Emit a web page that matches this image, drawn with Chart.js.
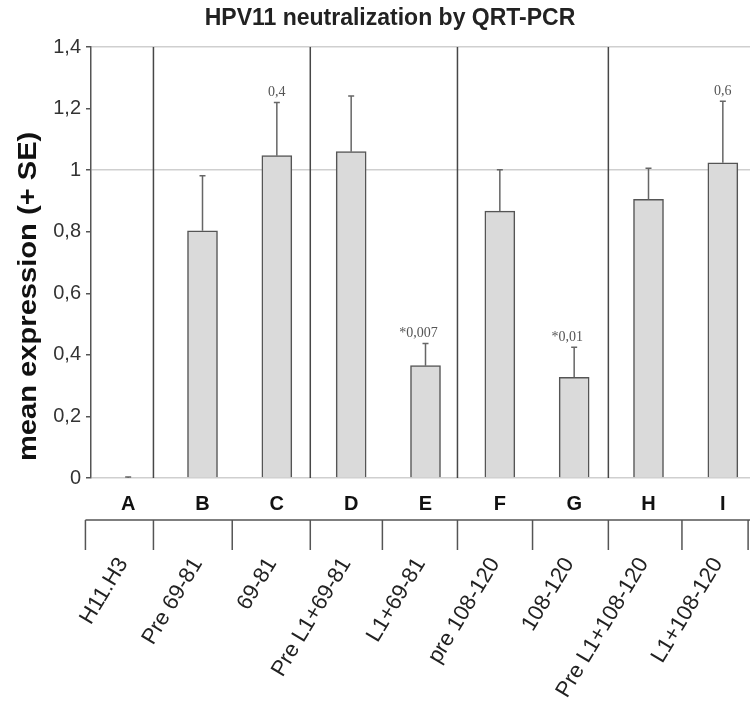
<!DOCTYPE html>
<html>
<head>
<meta charset="utf-8">
<script src="https://cdn.jsdelivr.net/npm/chart.js@4"></script>
<style>
html, body { margin: 0; padding: 0; overflow: hidden; background: #fff; }
#wrap { width: 780px; height: 704px; }
</style>
</head>
<body>
<div id="wrap"><canvas id="c" width="780" height="704"></canvas></div>
<script>
// ---- data ----
const categories = ['A', 'B', 'C', 'D', 'E', 'F', 'G', 'H', 'I'];
const sampleNames = ['H11.H3', 'Pre 69-81', '69-81', 'Pre L1+69-81', 'L1+69-81',
                     'pre 108-120', '108-120', 'Pre L1+108-120', 'L1+108-120'];
const meanExpression = [0, 0.803, 1.047, 1.060, 0.365, 0.867, 0.327, 0.905, 1.024];
const standardError  = [0.003, 0.179, 0.173, 0.181, 0.072, 0.134, 0.098, 0.101, 0.200];
const pValueLabels   = ['', '', '0,4', '', '*0,007', '', '*0,01', '', '0,6'];
const yTickLabels    = ['0', '0,2', '0,4', '0,6', '0,8', '1', '1,2', '1,4'];
const tableEdges     = [-0.575, 0.34, 1.40, 2.45, 3.42, 4.43, 5.44, 6.46, 7.45, 8.34];
const groupDividers  = [0.34, 2.45, 4.43, 6.46];
const yAxisTitle     = 'mean expression (+ SE)';

const SANS = "'Liberation Sans', Arial, sans-serif";
const SERIF = "'Liberation Serif', 'Times New Roman', serif";

const decor = {
  id: 'decor',
  beforeDatasetsDraw(chart) {
    const ctx = chart.ctx;
    const x = chart.scales.x;
    const y = chart.scales.y;
    const x2 = chart.scales.x2;
    ctx.save();
    ctx.strokeStyle = '#474747';
    ctx.lineWidth = 1.5;
    groupDividers.forEach(v => {
      const px = x.getPixelForValue(v);
      ctx.beginPath();
      ctx.moveTo(px, y.getPixelForValue(1.4));
      ctx.lineTo(px, y.getPixelForValue(0));
      ctx.stroke();
    });
    // table under the axis
    const top = x2.top;
    ctx.strokeStyle = '#555';
    ctx.beginPath();
    ctx.moveTo(x2.getPixelForValue(tableEdges[0]), top);
    ctx.lineTo(chart.width, top);
    ctx.stroke();
    tableEdges.forEach(v => {
      const px = x2.getPixelForValue(v);
      ctx.beginPath();
      ctx.moveTo(px, top);
      ctx.lineTo(px, top + 30);
      ctx.stroke();
    });
    ctx.restore();
  },
  afterDatasetsDraw(chart) {
    const ctx = chart.ctx;
    const y = chart.scales.y;
    const meta = chart.getDatasetMeta(0);
    ctx.save();
    ctx.strokeStyle = '#666';
    ctx.lineWidth = 1.5;
    meta.data.forEach((bar, i) => {
      if (!standardError[i]) return;
      const yTop = y.getPixelForValue(meanExpression[i] + standardError[i]);
      const yBase = y.getPixelForValue(meanExpression[i]);
      ctx.beginPath();
      ctx.moveTo(bar.x, yBase);
      ctx.lineTo(bar.x, yTop);
      ctx.moveTo(bar.x - 3, yTop);
      ctx.lineTo(bar.x + 3, yTop);
      ctx.stroke();
    });
    ctx.fillStyle = '#555';
    ctx.font = '14px ' + SERIF;
    ctx.textAlign = 'center';
    ctx.textBaseline = 'middle';
    meta.data.forEach((bar, i) => {
      const t = pValueLabels[i];
      if (!t) return;
      const yTop = y.getPixelForValue(meanExpression[i] + standardError[i]);
      let shift = 0;
      if (t.startsWith('*')) shift = -ctx.measureText('*').width;
      ctx.fillText(t, bar.x + shift, yTop - 10);
    });
    ctx.restore();
  },
  afterDraw(chart) {
    const ctx = chart.ctx;
    const y = chart.scales.y;
    ctx.save();
    ctx.translate(29, y.getPixelForValue(0.59));
    ctx.rotate(-Math.PI / 2);
    ctx.scale(1.12, 1);
    ctx.fillStyle = '#111';
    ctx.font = 'bold 26px ' + SANS;
    ctx.textAlign = 'center';
    ctx.textBaseline = 'middle';
    ctx.fillText(yAxisTitle, 0, 0);
    ctx.restore();
  }
};

new Chart(document.getElementById('c'), {
  type: 'bar',
  data: {
    labels: categories,
    datasets: [{
      data: meanExpression,
      backgroundColor: '#dadada',
      borderColor: '#555',
      borderWidth: 1.5,
      barThickness: 30,
      xAxisID: 'x',
      yAxisID: 'y'
    }]
  },
  options: {
    responsive: false,
    animation: false,
    layout: { padding: { left: 20, right: 20, top: 0, bottom: 0 } },
    plugins: {
      legend: { display: false },
      tooltip: { enabled: false },
      title: {
        display: true,
        text: 'HPV11 neutralization by QRT-PCR',
        color: '#222',
        font: { family: SANS, size: 23, weight: 'bold' },
        padding: { top: 5, bottom: 14.4 }
      }
    },
    scales: {
      y: {
        min: 0,
        max: 1.4,
        afterFit(s) { s.width = 71; },
        ticks: {
          stepSize: 0.2,
          color: '#333',
          font: { family: SANS, size: 20 },
          padding: 5,
          callback: (v, i) => yTickLabels[i]
        },
        grid: {
          color: ctx => {
            const v = ctx.tick ? Math.round(ctx.tick.value * 10) / 10 : -1;
            return (v === 0 || v === 1 || v === 1.4) ? '#cfcfcf' : 'rgba(0,0,0,0)';
          },
          tickColor: '#555',
          tickLength: 5,
          lineWidth: 1.5
        },
        border: { display: true, color: '#555', width: 1.5 },
        title: { display: false }
      },
      x: {
        type: 'category',
        position: 'bottom',
        weight: 1,
        offset: true,
        afterFit(s) { s.height = 42; },
        grid: { display: false },
        border: { display: false },
        ticks: {
          color: '#111',
          font: { family: SANS, size: 20, weight: 'bold' },
          padding: 6,
          maxRotation: 0,
          minRotation: 0,
          autoSkip: false
        }
      },
      x2: {
        type: 'category',
        labels: sampleNames,
        position: 'bottom',
        weight: 2,
        offset: true,
        afterFit(s) { s.height = 184; },
        grid: {
          display: true,
          drawOnChartArea: false,
          drawTicks: true,
          tickLength: 30,
          color: 'rgba(0,0,0,0)'
        },
        border: { display: false },
        ticks: {
          color: '#222',
          font: { family: SANS, size: 22 },
          padding: 3,
          labelOffset: -5,
          maxRotation: 59,
          minRotation: 59,
          autoSkip: false
        }
      }
    }
  },
  plugins: [decor]
});
</script>
</body>
</html>
